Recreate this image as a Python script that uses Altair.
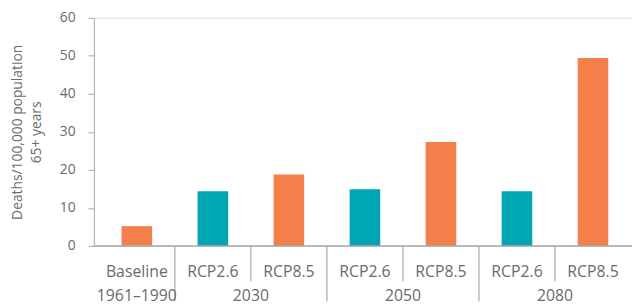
import altair as alt
import pandas as pd

# ---- data ----
keys = ["Baseline", "2030 RCP2.6", "2030 RCP8.5", "2050 RCP2.6", "2050 RCP8.5", "2080 RCP2.6", "2080 RCP8.5"]
scenario = ["Baseline", "RCP2.6", "RCP8.5", "RCP2.6", "RCP8.5", "RCP2.6", "RCP8.5"]
values = [5.2, 14.4, 18.8, 14.9, 27.3, 14.4, 49.4]

group_labels = ["1961–1990", "2030", "2050", "2080"]
group_anchor = ["Baseline", "2030 RCP8.5", "2050 RCP8.5", "2080 RCP8.5"]

long_sep = ["2030 RCP2.6", "2050 RCP2.6", "2080 RCP2.6"]
short_sep = ["2030 RCP8.5", "2050 RCP8.5", "2080 RCP8.5"]

y_ticks = [0, 10, 20, 30, 40, 50, 60]

# ---- style ----
FONT = "Open Sans"
TXT = "#6b6b6b"
LINE = "#a8a8a8"
ORANGE = "#F47F4A"
TEAL = "#00A6B4"
W, H = 545, 231

bars_df = pd.DataFrame({"key": keys, "scenario": scenario, "value": values})
grp_df = pd.DataFrame({"key": group_anchor, "label": group_labels})
long_df = pd.DataFrame({"key": long_sep})
short_df = pd.DataFrame({"key": short_sep})


def xenc(band=0.5):
    return alt.X(
        "key:N",
        sort=keys,
        bandPosition=band,
        scale=alt.Scale(domain=keys, range=[5, 544], paddingInner=0, paddingOuter=0),
        axis=None,
    )


bars = alt.Chart(bars_df).mark_bar(size=31).encode(
    x=xenc(),
    y=alt.Y(
        "value:Q",
        scale=alt.Scale(domain=[0, 60], nice=False),
        axis=alt.Axis(
            values=y_ticks,
            grid=False,
            domainColor=LINE,
            tickColor=LINE,
            tickSize=6,
            labelPadding=13,
            labelFont=FONT,
            labelFontSize=14,
            labelColor=TXT,
            title=["Deaths/100,000 population", "65+ years"],
            titleFont=FONT,
            titleFontSize=14,
            titleFontWeight="normal",
            titleColor=TXT,
            titleLineHeight=19,
            titlePadding=16,
        ),
    ),
    color=alt.Color(
        "scenario:N",
        scale=alt.Scale(domain=["Baseline", "RCP2.6", "RCP8.5"], range=[ORANGE, TEAL, ORANGE]),
        legend=None,
    ),
)

xaxis_line = alt.Chart(pd.DataFrame({"a": [0]})).mark_rule(color=LINE, strokeWidth=1.5).encode(
    x=alt.value(0), x2=alt.value(W), y=alt.value(H)
)

long_rules = alt.Chart(long_df).mark_rule(color=LINE, strokeWidth=1.2).encode(
    x=xenc(0), y=alt.value(H), y2=alt.value(H + 56)
)
short_rules = alt.Chart(short_df).mark_rule(color=LINE, strokeWidth=1.2).encode(
    x=xenc(0), y=alt.value(H), y2=alt.value(H + 36)
)

row1 = alt.Chart(bars_df).mark_text(
    font=FONT, fontSize=16, color=TXT, baseline="middle", align="center"
).encode(
    x=xenc(), y=alt.value(H + 26),
    text=alt.Text("label:N"),
).transform_calculate(label="datum.key == 'Baseline' ? 'Baseline' : datum.scenario")

row2a = alt.Chart(grp_df[grp_df["key"] == "Baseline"]).mark_text(
    font=FONT, fontSize=16, color=TXT, baseline="middle", align="center"
).encode(x=xenc(0.5), y=alt.value(H + 51), text="label:N")

row2b = alt.Chart(grp_df[grp_df["key"] != "Baseline"]).mark_text(
    font=FONT, fontSize=16, color=TXT, baseline="middle", align="center"
).encode(x=xenc(0), y=alt.value(H + 51), text="label:N")

chart = alt.layer(bars, xaxis_line, long_rules, short_rules, row1, row2a, row2b).properties(
    width=W,
    height=H,
    autosize=alt.AutoSizeParams(type="none"),
    padding={"left": 87, "top": 8, "right": 0, "bottom": 64},
).configure_view(stroke=None).configure(background="white")

chart.save("out.html", embed_options={"renderer": "svg", "actions": False})
